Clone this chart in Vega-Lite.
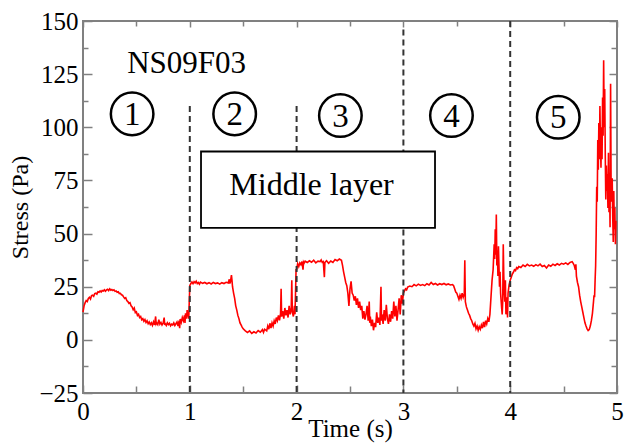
{
  "$schema": "https://vega.github.io/schema/vega-lite/v6.json",
  "width": 534,
  "height": 372,
  "autosize": {"type": "none"},
  "padding": {"left": 83, "top": 21, "right": 9, "bottom": 54},
  "config": {
    "font": "Liberation Serif",
    "view": {"stroke": "#808080", "strokeWidth": 2},
    "axis": {"grid": false, "domain": false, "tickColor": "#808080", "tickWidth": 1.5, "labelFont": "Liberation Serif", "titleFont": "Liberation Serif", "labelColor": "#000", "titleColor": "#000", "titleFontWeight": "normal"}
  },
  "datasets": {
    "stress": [
      {"t":0.00,"s":13},{"t":0.01,"s":16},{"t":0.02,"s":17.5},{"t":0.03,"s":18.5},{"t":0.04,"s":18},{"t":0.05,"s":19.5},{"t":0.06,"s":20},{"t":0.07,"s":19.2},{"t":0.08,"s":20.8},{"t":0.09,"s":21},{"t":0.10,"s":20.5},{"t":0.11,"s":21.8},{"t":0.12,"s":22},{"t":0.13,"s":21.5},{"t":0.14,"s":22.6},{"t":0.15,"s":22.4},{"t":0.16,"s":23},{"t":0.17,"s":22.5},{"t":0.18,"s":23.2},{"t":0.19,"s":23},{"t":0.20,"s":23.6},{"t":0.21,"s":22.9},{"t":0.22,"s":23.5},{"t":0.23,"s":23.8},{"t":0.24,"s":23.2},{"t":0.25,"s":24},{"t":0.26,"s":23.4},{"t":0.27,"s":23.7},{"t":0.28,"s":23.2},{"t":0.29,"s":23.5},{"t":0.30,"s":22.8},{"t":0.31,"s":23},{"t":0.32,"s":22.4},{"t":0.33,"s":22.6},{"t":0.34,"s":21.8},{"t":0.35,"s":21.9},{"t":0.36,"s":21.2},{"t":0.37,"s":21},{"t":0.38,"s":20.2},{"t":0.39,"s":19.5},{"t":0.40,"s":19.8},{"t":0.41,"s":18.5},{"t":0.42,"s":18},{"t":0.43,"s":17.2},{"t":0.44,"s":17.5},{"t":0.45,"s":16},{"t":0.46,"s":15.5},{"t":0.47,"s":14.2},{"t":0.48,"s":15},{"t":0.49,"s":12.8},{"t":0.50,"s":13.2},{"t":0.51,"s":11.5},{"t":0.52,"s":12},{"t":0.53,"s":10.5},{"t":0.54,"s":11},{"t":0.55,"s":9.5},{"t":0.56,"s":10},{"t":0.57,"s":8.8},{"t":0.58,"s":9.6},{"t":0.59,"s":8.2},{"t":0.60,"s":9},{"t":0.61,"s":7.6},{"t":0.62,"s":8.4},{"t":0.63,"s":7.2},{"t":0.64,"s":8},{"t":0.65,"s":6.8},{"t":0.66,"s":8.5},{"t":0.67,"s":7},{"t":0.68,"s":11},{"t":0.685,"s":7.5},{"t":0.69,"s":8},{"t":0.70,"s":7.2},{"t":0.71,"s":9.5},{"t":0.72,"s":7.4},{"t":0.73,"s":8.2},{"t":0.74,"s":7},{"t":0.75,"s":7.8},{"t":0.76,"s":10.5},{"t":0.765,"s":7},{"t":0.77,"s":7.6},{"t":0.78,"s":6.8},{"t":0.79,"s":8},{"t":0.80,"s":7.2},{"t":0.81,"s":7.8},{"t":0.82,"s":6.6},{"t":0.83,"s":7.4},{"t":0.84,"s":7},{"t":0.85,"s":8},{"t":0.86,"s":6.8},{"t":0.87,"s":7.6},{"t":0.88,"s":8.4},{"t":0.89,"s":6.5},{"t":0.90,"s":9},{"t":0.905,"s":5.5},{"t":0.91,"s":9.8},{"t":0.92,"s":8.2},{"t":0.93,"s":10.5},{"t":0.94,"s":9},{"t":0.95,"s":11.5},{"t":0.955,"s":8},{"t":0.96,"s":12.5},{"t":0.97,"s":10},{"t":0.975,"s":14},{"t":0.98,"s":11},{"t":0.985,"s":12.5},{"t":0.99,"s":10},{"t":0.995,"s":18},
      {"t":1.00,"s":25.5},{"t":1.01,"s":26.5},{"t":1.02,"s":27.2},{"t":1.03,"s":26.4},{"t":1.04,"s":27.4},{"t":1.05,"s":26.8},{"t":1.06,"s":27.6},{"t":1.07,"s":26.5},{"t":1.08,"s":27},{"t":1.09,"s":26.2},{"t":1.10,"s":27.2},{"t":1.12,"s":26.6},{"t":1.14,"s":27},{"t":1.16,"s":26.4},{"t":1.18,"s":26.9},{"t":1.20,"s":26.3},{"t":1.22,"s":27},{"t":1.24,"s":26.5},{"t":1.26,"s":26.8},{"t":1.28,"s":26.2},{"t":1.30,"s":26.9},{"t":1.32,"s":26.5},{"t":1.34,"s":27.1},{"t":1.36,"s":26.8},{"t":1.37,"s":28.5},{"t":1.375,"s":26.5},{"t":1.38,"s":27.2},{"t":1.39,"s":30.5},{"t":1.395,"s":28},{"t":1.40,"s":25},{"t":1.41,"s":22},{"t":1.42,"s":19.5},{"t":1.43,"s":16},{"t":1.44,"s":14},{"t":1.45,"s":11.5},{"t":1.46,"s":10},{"t":1.47,"s":8},{"t":1.48,"s":7},{"t":1.49,"s":6},{"t":1.50,"s":5.2},{"t":1.52,"s":4.2},{"t":1.54,"s":3.5},{"t":1.56,"s":4.2},{"t":1.58,"s":3},{"t":1.60,"s":3.8},{"t":1.62,"s":3.2},{"t":1.64,"s":4.4},{"t":1.66,"s":3.6},{"t":1.68,"s":4.8},{"t":1.69,"s":3.5},{"t":1.70,"s":5},{"t":1.72,"s":4.2},{"t":1.73,"s":6.5},{"t":1.74,"s":5},{"t":1.75,"s":7.8},{"t":1.76,"s":5.5},{"t":1.77,"s":8},{"t":1.78,"s":6.5},{"t":1.79,"s":9},{"t":1.80,"s":7.5},{"t":1.81,"s":10.5},{"t":1.82,"s":9},{"t":1.83,"s":11.5},{"t":1.84,"s":9.2},{"t":1.85,"s":12.5},{"t":1.855,"s":24},{"t":1.86,"s":11},{"t":1.87,"s":13.5},{"t":1.88,"s":10},{"t":1.89,"s":15},{"t":1.90,"s":11.5},{"t":1.91,"s":14},{"t":1.92,"s":10.5},{"t":1.93,"s":16},{"t":1.94,"s":12},{"t":1.95,"s":15},{"t":1.955,"s":28},{"t":1.96,"s":13},{"t":1.97,"s":11},{"t":1.98,"s":16},{"t":1.985,"s":12},{"t":1.99,"s":22},{"t":1.995,"s":33},
      {"t":2.00,"s":33},{"t":2.01,"s":35.8},{"t":2.02,"s":34.5},{"t":2.03,"s":36.2},{"t":2.04,"s":35.4},{"t":2.05,"s":36.8},{"t":2.06,"s":33},{"t":2.065,"s":36.5},{"t":2.07,"s":36},{"t":2.08,"s":37},{"t":2.10,"s":36.4},{"t":2.12,"s":37.2},{"t":2.14,"s":36.5},{"t":2.16,"s":37.5},{"t":2.18,"s":36.2},{"t":2.20,"s":37},{"t":2.22,"s":36.8},{"t":2.23,"s":37.6},{"t":2.24,"s":36.5},{"t":2.25,"s":36.8},{"t":2.26,"s":29.5},{"t":2.265,"s":36.4},{"t":2.28,"s":37.2},{"t":2.30,"s":36},{"t":2.32,"s":37.1},{"t":2.34,"s":36.4},{"t":2.36,"s":37.8},{"t":2.38,"s":37.2},{"t":2.40,"s":38},{"t":2.42,"s":37.4},{"t":2.43,"s":35},{"t":2.44,"s":32},{"t":2.45,"s":29.5},{"t":2.46,"s":27},{"t":2.47,"s":25.5},{"t":2.48,"s":22},{"t":2.49,"s":16},{"t":2.50,"s":24},{"t":2.51,"s":27.5},{"t":2.52,"s":22},{"t":2.53,"s":21},{"t":2.54,"s":18.5},{"t":2.55,"s":20.5},{"t":2.56,"s":16.5},{"t":2.57,"s":19.5},{"t":2.58,"s":15},{"t":2.59,"s":18},{"t":2.60,"s":14},{"t":2.61,"s":16},{"t":2.62,"s":10},{"t":2.63,"s":13.5},{"t":2.64,"s":9.5},{"t":2.65,"s":12},{"t":2.66,"s":16},{"t":2.67,"s":9},{"t":2.68,"s":18},{"t":2.685,"s":8},{"t":2.69,"s":11},{"t":2.70,"s":6.5},{"t":2.71,"s":9.5},{"t":2.72,"s":4.5},{"t":2.73,"s":8},{"t":2.74,"s":6},{"t":2.75,"s":13},{"t":2.76,"s":8},{"t":2.77,"s":10.5},{"t":2.78,"s":7},{"t":2.79,"s":25},{"t":2.795,"s":9},{"t":2.80,"s":12},{"t":2.81,"s":7.5},{"t":2.82,"s":14},{"t":2.83,"s":9},{"t":2.84,"s":16.5},{"t":2.85,"s":10},{"t":2.86,"s":7.5},{"t":2.87,"s":12},{"t":2.88,"s":8.5},{"t":2.89,"s":13.5},{"t":2.90,"s":10},{"t":2.91,"s":18},{"t":2.92,"s":11},{"t":2.93,"s":16},{"t":2.94,"s":9},{"t":2.95,"s":14},{"t":2.96,"s":19.5},{"t":2.97,"s":12},{"t":2.98,"s":21},{"t":2.99,"s":17},
      {"t":3.00,"s":22},{"t":3.01,"s":23},{"t":3.02,"s":24},{"t":3.03,"s":23.5},{"t":3.04,"s":24.8},{"t":3.06,"s":25.3},{"t":3.08,"s":25},{"t":3.10,"s":26},{"t":3.12,"s":25.4},{"t":3.14,"s":26.2},{"t":3.16,"s":25.6},{"t":3.18,"s":26},{"t":3.20,"s":25.5},{"t":3.22,"s":26.4},{"t":3.24,"s":25.8},{"t":3.26,"s":27},{"t":3.28,"s":26},{"t":3.30,"s":26.5},{"t":3.32,"s":25.8},{"t":3.34,"s":26.4},{"t":3.36,"s":26},{"t":3.38,"s":26.5},{"t":3.40,"s":25.9},{"t":3.42,"s":26.3},{"t":3.44,"s":25.8},{"t":3.46,"s":26},{"t":3.47,"s":25.5},{"t":3.48,"s":24},{"t":3.49,"s":22.5},{"t":3.50,"s":22},{"t":3.51,"s":20.5},{"t":3.52,"s":19},{"t":3.53,"s":21},{"t":3.54,"s":19.5},{"t":3.55,"s":22},{"t":3.56,"s":20},{"t":3.57,"s":21.5},{"t":3.575,"s":37.5},{"t":3.58,"s":18},{"t":3.59,"s":15.5},{"t":3.60,"s":14},{"t":3.61,"s":12.5},{"t":3.62,"s":11.5},{"t":3.63,"s":10},{"t":3.64,"s":9},{"t":3.65,"s":7.5},{"t":3.66,"s":6.5},{"t":3.67,"s":7.8},{"t":3.68,"s":5.2},{"t":3.69,"s":6.5},{"t":3.70,"s":4.5},{"t":3.71,"s":6.2},{"t":3.72,"s":5},{"t":3.73,"s":7},{"t":3.74,"s":5.5},{"t":3.75,"s":8.5},{"t":3.76,"s":6},{"t":3.77,"s":9},{"t":3.78,"s":7.5},{"t":3.79,"s":10},{"t":3.80,"s":8.5},{"t":3.81,"s":12},{"t":3.82,"s":20},{"t":3.83,"s":28},{"t":3.84,"s":33},{"t":3.85,"s":45},{"t":3.855,"s":38},{"t":3.86,"s":52},{"t":3.865,"s":40},{"t":3.87,"s":59},{"t":3.875,"s":35},{"t":3.88,"s":42},{"t":3.885,"s":30},{"t":3.89,"s":44},{"t":3.90,"s":25},{"t":3.905,"s":32},{"t":3.91,"s":22},{"t":3.92,"s":15},{"t":3.925,"s":12},{"t":3.93,"s":18},{"t":3.935,"s":45},{"t":3.94,"s":30},{"t":3.945,"s":22},{"t":3.95,"s":18},{"t":3.955,"s":28},{"t":3.96,"s":12},{"t":3.97,"s":20},{"t":3.975,"s":10.5},{"t":3.98,"s":22},{"t":3.99,"s":26},
      {"t":4.00,"s":28},{"t":4.01,"s":29.5},{"t":4.02,"s":31},{"t":4.03,"s":31.8},{"t":4.04,"s":33},{"t":4.05,"s":32.6},{"t":4.06,"s":34},{"t":4.07,"s":33.5},{"t":4.08,"s":34.5},{"t":4.10,"s":34},{"t":4.12,"s":35.2},{"t":4.14,"s":34.5},{"t":4.16,"s":35.5},{"t":4.18,"s":34.8},{"t":4.20,"s":35.2},{"t":4.22,"s":34.6},{"t":4.24,"s":35.4},{"t":4.26,"s":34.8},{"t":4.28,"s":35.6},{"t":4.30,"s":34.5},{"t":4.32,"s":35},{"t":4.34,"s":33.8},{"t":4.36,"s":35.2},{"t":4.38,"s":34.6},{"t":4.40,"s":35.6},{"t":4.42,"s":35},{"t":4.44,"s":35.8},{"t":4.46,"s":35.2},{"t":4.48,"s":36},{"t":4.50,"s":35.6},{"t":4.52,"s":36.2},{"t":4.54,"s":35.5},{"t":4.56,"s":36.4},{"t":4.58,"s":36.8},{"t":4.59,"s":36},{"t":4.60,"s":35},{"t":4.61,"s":33},{"t":4.615,"s":35.5},{"t":4.62,"s":30},{"t":4.63,"s":27},{"t":4.64,"s":25},{"t":4.65,"s":21},{"t":4.66,"s":18},{"t":4.67,"s":15.5},{"t":4.68,"s":13},{"t":4.69,"s":10.5},{"t":4.70,"s":8},{"t":4.71,"s":6.5},{"t":4.72,"s":5.2},{"t":4.73,"s":4.4},{"t":4.74,"s":4.8},{"t":4.75,"s":6.5},{"t":4.76,"s":9},{"t":4.77,"s":12.5},{"t":4.78,"s":18},{"t":4.785,"s":21},{"t":4.79,"s":20},{"t":4.795,"s":28},{"t":4.80,"s":35},{"t":4.805,"s":50},{"t":4.81,"s":72},{"t":4.815,"s":65},{"t":4.82,"s":94},{"t":4.825,"s":80},{"t":4.83,"s":102},{"t":4.835,"s":85},{"t":4.84,"s":110},{"t":4.845,"s":92},{"t":4.85,"s":81},{"t":4.855,"s":100},{"t":4.86,"s":85},{"t":4.865,"s":114},{"t":4.87,"s":96},{"t":4.875,"s":131.5},{"t":4.88,"s":100},{"t":4.885,"s":118},{"t":4.89,"s":88},{"t":4.895,"s":66},{"t":4.90,"s":82},{"t":4.905,"s":70},{"t":4.91,"s":78},{"t":4.915,"s":62},{"t":4.92,"s":88},{"t":4.925,"s":60},{"t":4.93,"s":74},{"t":4.935,"s":53},{"t":4.94,"s":120.5},{"t":4.945,"s":70},{"t":4.95,"s":65},{"t":4.955,"s":76},{"t":4.96,"s":58},{"t":4.965,"s":46},{"t":4.97,"s":70},{"t":4.975,"s":52},{"t":4.98,"s":62},{"t":4.985,"s":45},{"t":4.99,"s":56}
    ],
    "rules": [
      {"t":1,"top":110,"bottom":-25},
      {"t":2,"top":110,"bottom":-25},
      {"t":3,"top":146,"bottom":-25},
      {"t":4,"top":150,"bottom":-25}
    ],
    "box": [{"x1":1.105,"x2":3.296,"y1":88.6,"y2":52.7}],
    "boxlabel": [{"t":2.14,"s":68.2,"label":"Middle layer"}],
    "title": [{"t":0.97,"s":125.7,"label":"NS09F03"}],
    "circles": [
      {"t":0.46,"s":106.3,"label":"1"},
      {"t":1.42,"s":106.3,"label":"2"},
      {"t":2.41,"s":105.5,"label":"3"},
      {"t":3.45,"s":105.5,"label":"4"},
      {"t":4.45,"s":104.7,"label":"5"}
    ]
  },
  "layer": [
    {
      "data": {"name": "stress"},
      "mark": {"type": "line", "color": "#ff0000", "strokeWidth": 1.6, "interpolate": "linear"},
      "encoding": {
        "x": {"field": "t", "type": "quantitative", "scale": {"domain": [0, 5], "nice": false, "zero": false},
              "axis": {"orient": "bottom", "values": [0,1,2,3,4,5], "tickSize": -8, "labelPadding": 14, "labelFontSize": 25, "title": "Time (s)", "titleFontSize": 25, "titlePadding": -8, "labelFlush": false}},
        "y": {"field": "s", "type": "quantitative", "scale": {"domain": [-25, 150], "nice": false, "zero": false},
              "axis": {"orient": "left", "values": [-25,0,25,50,75,100,125,150], "tickSize": -9, "labelPadding": 14, "labelFontSize": 25, "title": "Stress (Pa)", "titleFontSize": 24, "titlePadding": 6}}
      }
    },
    {
      "data": {"name": "rules"},
      "mark": {"type": "rule", "color": "#333333", "strokeWidth": 2, "strokeDash": [6, 4]},
      "encoding": {
        "x": {"field": "t", "type": "quantitative", "axis": {"orient": "bottom", "values": [0.5,1.5,2.5,3.5,4.5], "tickSize": -7, "labels": false, "title": null}},
        "y": {"field": "top", "type": "quantitative", "axis": {"orient": "left", "values": [-12.5,12.5,37.5,62.5,87.5,112.5,137.5], "tickSize": -5, "labels": false, "title": null}},
        "y2": {"field": "bottom"}
      }
    },
    {
      "data": {"name": "box"},
      "mark": {"type": "rect", "fill": "#ffffff", "stroke": "#000000", "strokeWidth": 1.8},
      "encoding": {
        "x": {"field": "x1", "type": "quantitative", "axis": {"orient": "top", "values": [0,1,2,3,4,5], "tickSize": -6, "labels": false, "title": null}},
        "x2": {"field": "x2"},
        "y": {"field": "y1", "type": "quantitative", "axis": {"orient": "right", "values": [-25,0,25,50,75,100,125,150], "tickSize": -8, "labels": false, "title": null}},
        "y2": {"field": "y2"}
      }
    },
    {
      "data": {"name": "boxlabel"},
      "mark": {"type": "text", "fontSize": 32, "font": "Liberation Serif", "align": "center", "baseline": "alphabetic", "color": "#000"},
      "encoding": {
        "x": {"field": "t", "type": "quantitative", "axis": {"orient": "top", "values": [0.5,1.5,2.5,3.5,4.5], "tickSize": -5, "labels": false, "title": null}},
        "y": {"field": "s", "type": "quantitative", "axis": {"orient": "right", "values": [-12.5,12.5,37.5,62.5,87.5,112.5,137.5], "tickSize": -6, "labels": false, "title": null}},
        "text": {"field": "label"}
      }
    },
    {
      "data": {"name": "title"},
      "mark": {"type": "text", "fontSize": 31, "font": "Liberation Serif", "align": "center", "baseline": "alphabetic", "color": "#000"},
      "encoding": {
        "x": {"field": "t", "type": "quantitative", "axis": null},
        "y": {"field": "s", "type": "quantitative", "axis": null},
        "text": {"field": "label"}
      }
    },
    {
      "data": {"name": "circles"},
      "mark": {"type": "point", "shape": "circle", "filled": false, "stroke": "#000", "strokeWidth": 2.5, "size": 1810, "opacity": 1},
      "encoding": {
        "x": {"field": "t", "type": "quantitative", "axis": null},
        "y": {"field": "s", "type": "quantitative", "axis": null}
      }
    },
    {
      "data": {"name": "circles"},
      "mark": {"type": "text", "fontSize": 33, "font": "Liberation Serif", "align": "center", "baseline": "middle", "dy": 1, "color": "#000"},
      "encoding": {
        "x": {"field": "t", "type": "quantitative", "axis": null},
        "y": {"field": "s", "type": "quantitative", "axis": null},
        "text": {"field": "label"}
      }
    }
  ],
  "resolve": {"axis": {"x": "independent", "y": "independent"}}
}
